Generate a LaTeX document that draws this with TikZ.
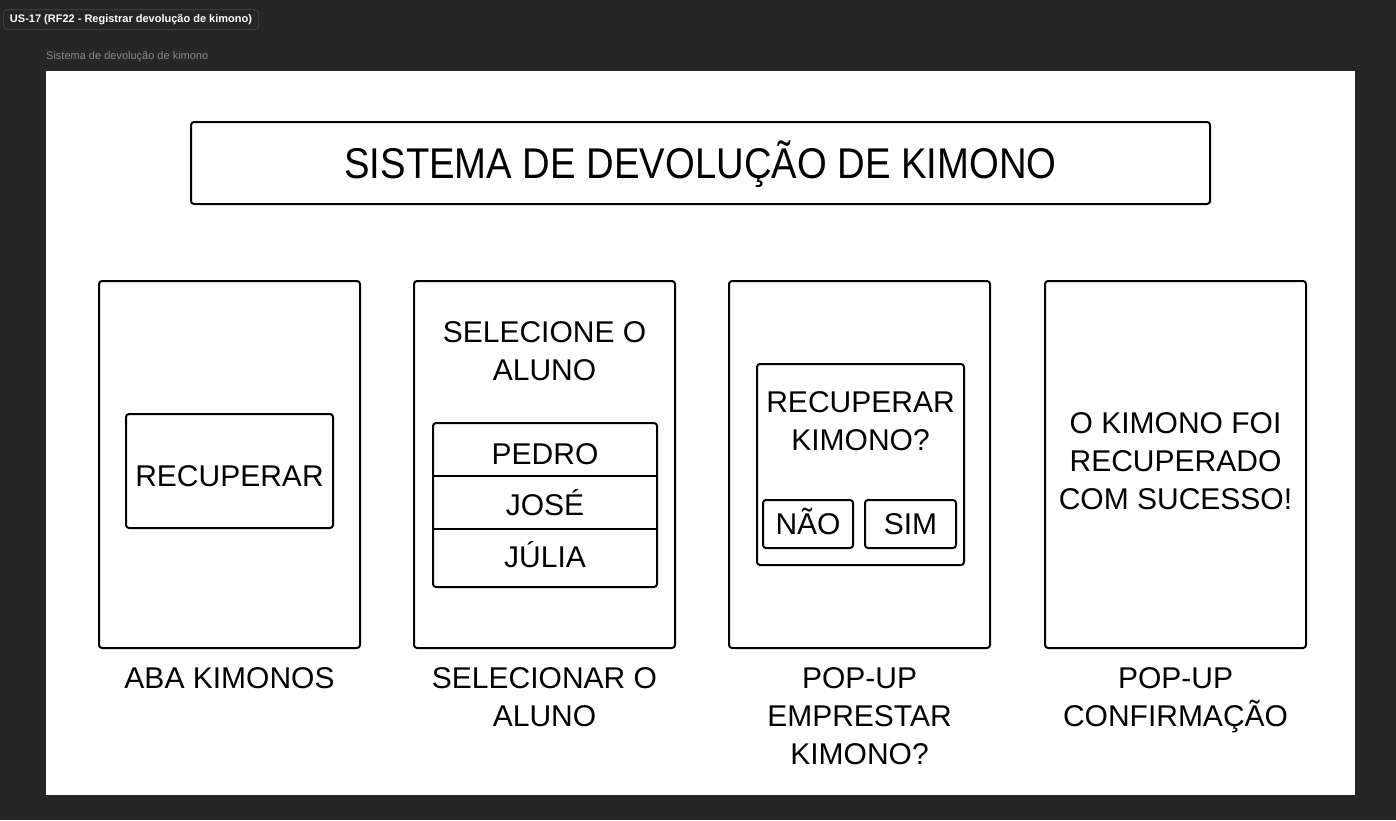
\documentclass[tikz,border=0pt]{standalone}
\usepackage{fontspec}
\setmainfont{Liberation Sans}
\definecolor{bgdark}{HTML}{262626}
\definecolor{tagborder}{HTML}{3C3C3C}
\definecolor{subgray}{HTML}{8A8A8A}
\tikzset{
  box/.style={draw=black, line width=2pt, rounded corners=3pt, fill=white, inner sep=0pt, outer sep=0pt},
  txt/.style={font=\fontsize{30}{38}\selectfont, align=center, inner sep=0pt, text=black, text height=21.5pt, text depth=0pt},
}
\begin{document}
\begin{tikzpicture}[x=1pt,y=-1pt]
\useasboundingbox (0,0) rectangle (1396,820);
\fill[bgdark] (0,0) rectangle (1396,820);
% tag
\node[draw=tagborder, line width=1pt, rounded corners=4pt, fill=bgdark, minimum width=255pt, minimum height=20pt, inner sep=0pt, anchor=north west, text=white, font=\fontsize{11}{13}\selectfont\bfseries] (tag) at (3,9) {US-17 (RF22 - Registrar devolução de kimono)};
\node[anchor=west, text=subgray, font=\fontsize{11}{13}\selectfont, inner sep=0pt] (sub) at (46,57) {Sistema de devolução de kimono};
% white frame
\node[fill=white, inner sep=0pt, minimum width=1309pt, minimum height=724pt, anchor=north west] (frame) at (46,71) {};
% title
\node[box, minimum width=1019pt, minimum height=82pt, font=\fontsize{43}{50}\selectfont, text height=31pt, text depth=0pt] (title) at (700.5,163) {\scalebox{0.89}[1]{SISTEMA DE DEVOLUÇÃO DE KIMONO}};
% screens
\node[box, minimum width=261pt, minimum height=367pt] (s1) at (229.5,464.5) {};
\node[box, minimum width=261pt, minimum height=367pt] (s2) at (544.5,464.5) {};
\node[box, minimum width=261pt, minimum height=367pt] (s3) at (859.5,464.5) {};
\node[box, minimum width=261pt, minimum height=367pt] (s4) at (1175.5,464.5) {};
% screen 1
\node[box, minimum width=207pt, minimum height=114pt] (rec) at (229.5,471) {};
\node[txt] (rectxt) at (229.5,476) {RECUPERAR};
% screen 2 (multi-line nodes are placed by the centre of their last line)
\node[txt] (sel) at (544.5,370) {SELECIONE O\\ALUNO};
\node[box, minimum width=224pt, minimum height=164pt] (list) at (545,505) {};
\coordinate (d1l) at (433,476); \coordinate (d1r) at (657,476);
\coordinate (d2l) at (433,529); \coordinate (d2r) at (657,529);
\draw[line width=2pt] (d1l) -- (d1r);
\draw[line width=2pt] (d2l) -- (d2r);
\node[txt] (pedro) at (545,454) {PEDRO};
\node[txt] (jose) at (545,505) {JOSÉ};
\node[txt] (julia) at (545,557) {JÚLIA};
% screen 3
\node[box, minimum width=207pt, minimum height=201pt] (pop) at (860.5,464.5) {};
\node[txt] (popq) at (860.5,440) {RECUPERAR\\KIMONO?};
\node[box, minimum width=90pt, minimum height=48pt, txt] (nao) at (808,524) {NÃO};
\node[box, minimum width=91pt, minimum height=48pt, txt] (sim) at (910.5,524) {SIM};
% screen 4
\node[txt] (conf) at (1175.5,499) {O KIMONO FOI\\RECUPERADO\\COM SUCESSO!};
% captions
\node[txt] (c1) at (229.5,678) {ABA KIMONOS};
\node[txt] (c2) at (544.5,716) {SELECIONAR O\\ALUNO};
\node[txt] (c3) at (859.5,754) {POP-UP\\EMPRESTAR\\KIMONO?};
\node[txt] (c4) at (1175.5,716) {POP-UP\\CONFIRMAÇÃO};
\end{tikzpicture}
\end{document}
